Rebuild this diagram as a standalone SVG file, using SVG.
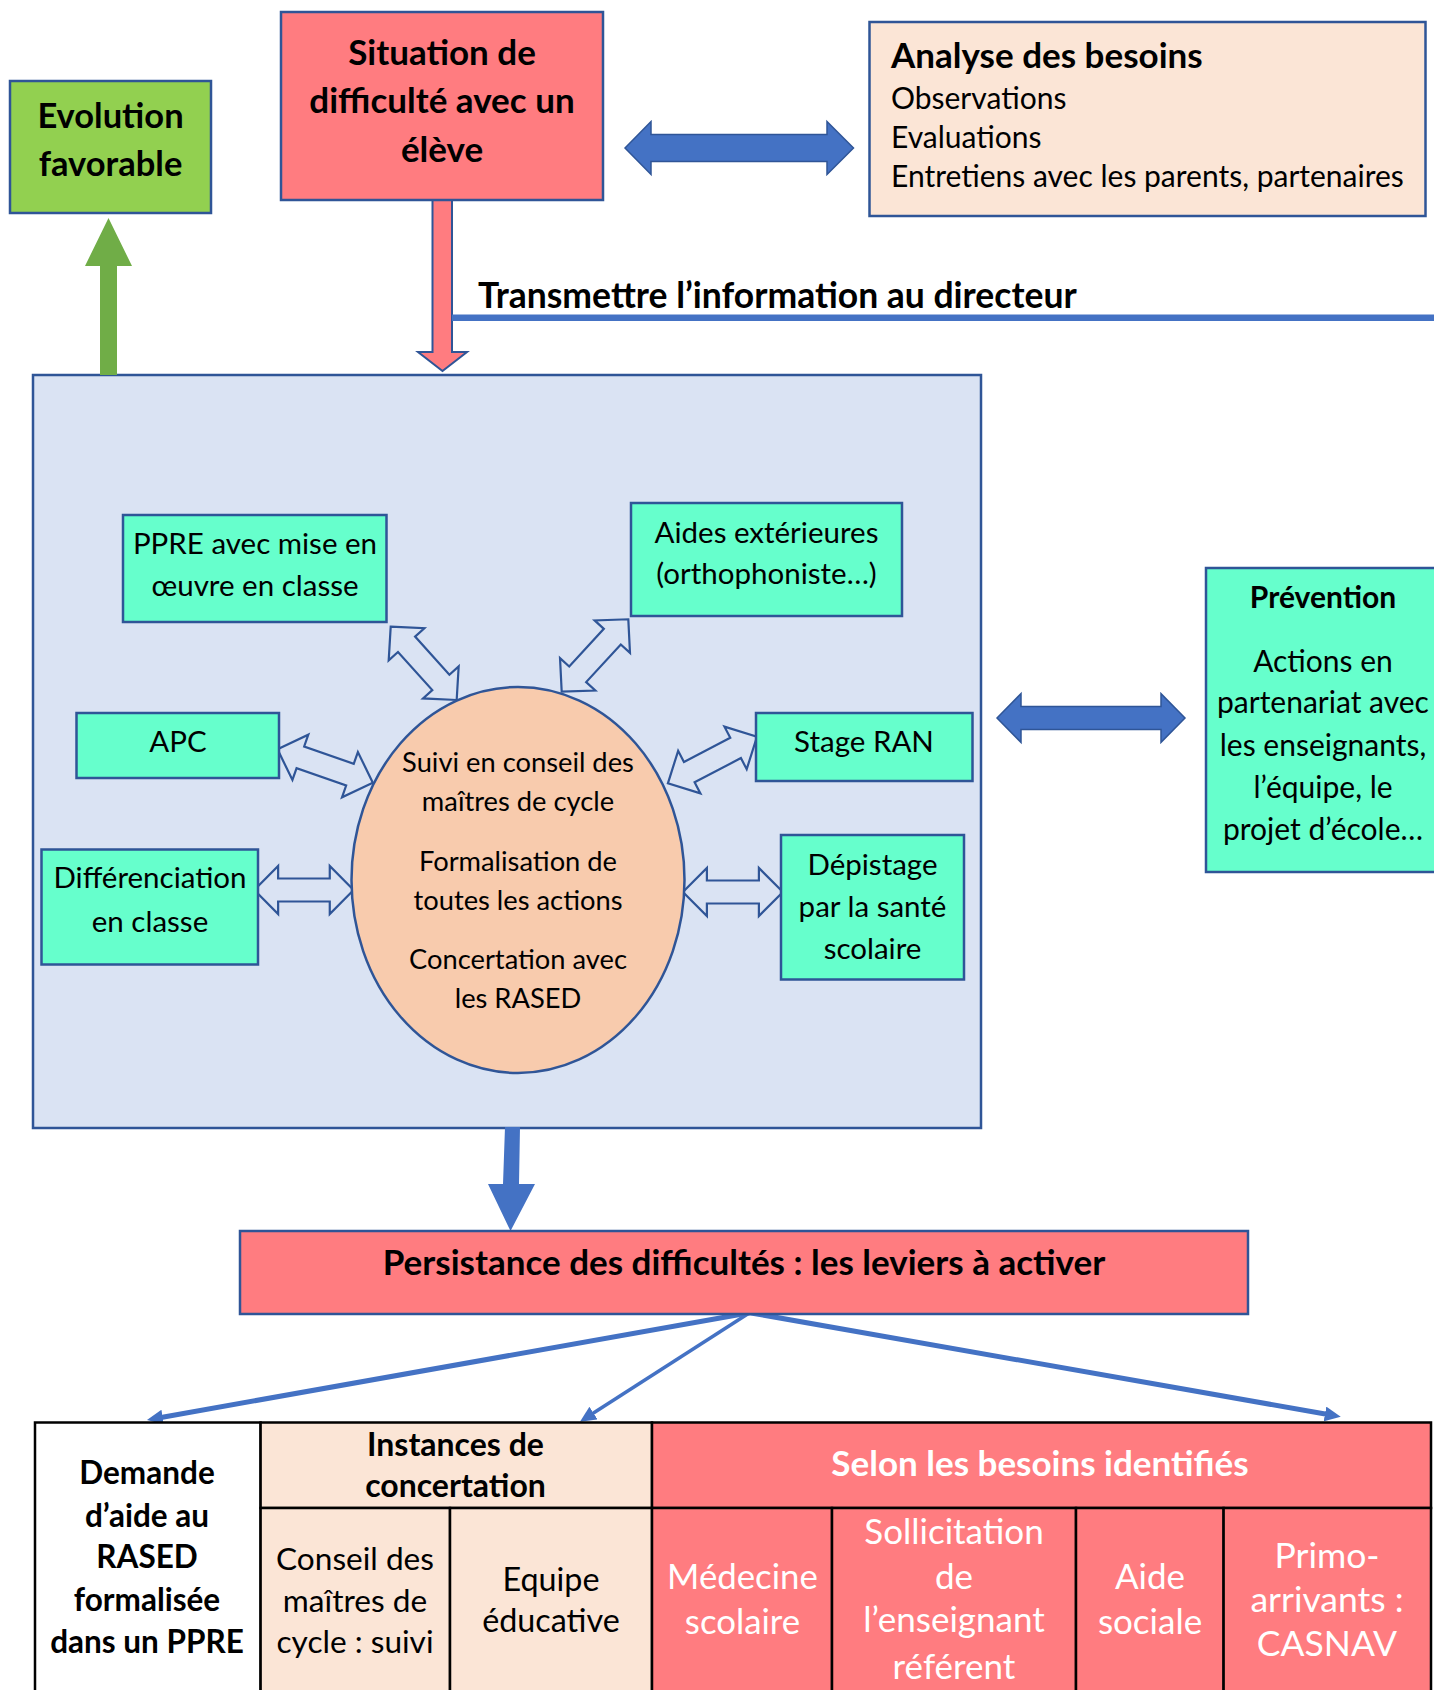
<svg xmlns="http://www.w3.org/2000/svg" width="1434" height="1690" viewBox="0 0 1434 1690">
<style>
.t{font-family:Lato,"Liberation Sans",sans-serif;fill:#000}
.b{font-weight:bold}
.w{fill:#fff}
.m{text-anchor:middle}
.box{stroke:#2F5597;stroke-width:2.5}
.red{fill:#FF7C80}
.green{fill:#92D050}
.peach{fill:#FBE5D6}
.aqua{fill:#66FFCC}
.bg{fill:#DAE3F3}
.cell{stroke:#000;stroke-width:2.5}
.hol{fill:#DAE3F3;stroke:#2F5597;stroke-width:2.2}
.solid{fill:#4472C4;stroke:#2F5597;stroke-width:1.5}
.lnk{stroke:#4472C4;fill:none}
.in{font-size:29.5px}
.el{font-size:27.3px}
</style>
<defs>
<polygon id="harrow" points="0,0 24,-24 24,-11.5 76,-11.5 76,-24 100,0 76,24 76,11.5 24,11.5 24,24" vector-effect="non-scaling-stroke"/>
<marker id="ah" markerUnits="userSpaceOnUse" markerWidth="16" markerHeight="15" refX="6" refY="7.5" orient="auto">
<path d="M0,0 L16,7.5 L0,15 z" fill="#4472C4"/>
</marker>
</defs>

<!-- background container -->
<g id="container">
<rect class="box bg" x="33" y="375" width="948" height="753"/>
</g>

<g id="connectors">
<!-- green up arrow -->
<polygon points="100,375 100,266 85,266 108.5,218 132,266 117,266 117,375" fill="#70AD47"/>
<!-- red down arrow -->
<polygon points="432.5,199 432.5,352 418,352 442.5,371 467,352 452,352 452,199" fill="#FF7C80" stroke="#2F5597" stroke-width="2"/>
<!-- transmettre line -->
<rect x="452" y="314.5" width="982" height="6.5" fill="#4472C4"/>
<!-- top double arrow -->
<polygon class="solid" points="625,148 651,121.5 651,134.5 827,134.5 827,121.5 853.5,148 827,174.5 827,161.5 651,161.5 651,174.5"/>
<!-- right double arrow -->
<polygon class="solid" points="997,718 1021,693.6 1021,706.5 1161,706.5 1161,693.6 1185,718 1161,742.4 1161,729.5 1021,729.5 1021,742.4"/>
<!-- hollow double arrows -->
<use href="#harrow" class="hol" transform="translate(390.7,626.7) rotate(48) scale(0.986,1)"/>
<use href="#harrow" class="hol" transform="translate(561.7,691.7) rotate(-47.4) scale(0.984,1)"/>
<use href="#harrow" class="hol" transform="translate(277.5,749.3) rotate(19.3) scale(1.01,1)"/>
<use href="#harrow" class="hol" transform="translate(667.9,783.3) rotate(-27.6) scale(1.005,1)"/>
<use href="#harrow" class="hol" transform="translate(254.3,890) scale(0.993,1)"/>
<use href="#harrow" class="hol" transform="translate(682.9,892)"/>
<!-- big down arrow -->
<polygon points="505,1127 520,1127 519,1184 535,1184 510.5,1231 488,1184 503,1184" fill="#4472C4"/>
<!-- lines to table -->
<line class="lnk" x1="749.6" y1="1312.7" x2="156.8" y2="1418.2" stroke-width="5" marker-end="url(#ah)"/>
<line class="lnk" x1="749.6" y1="1312.7" x2="588.4" y2="1416.3" stroke-width="3.5" marker-end="url(#ah)"/>
<line class="lnk" x1="749.6" y1="1312.7" x2="1330.9" y2="1415" stroke-width="5" marker-end="url(#ah)"/>
</g>

<g id="evolution">
<rect class="box green" x="10" y="81" width="201" height="132"/>
<text class="t b m" x="110.5" y="128" font-size="34.5">Evolution</text>
<text class="t b m" x="110.5" y="176" font-size="34.5">favorable</text>
</g>

<g id="situation">
<rect class="box red" x="281" y="12" width="322" height="188"/>
<text class="t b m" x="442" y="65" font-size="35">Situation de</text>
<text class="t b m" x="442" y="113" font-size="35">difficulté avec un</text>
<text class="t b m" x="442" y="162" font-size="35">élève</text>
</g>

<g id="analyse">
<rect class="box peach" x="869.5" y="22" width="556" height="194"/>
<text class="t b" x="891" y="68" font-size="35">Analyse des besoins</text>
<text class="t" x="891" y="109" font-size="30">Observations</text>
<text class="t" x="891" y="148" font-size="30">Evaluations</text>
<text class="t" x="891" y="187" font-size="30">Entretiens avec les parents, partenaires</text>
</g>

<g id="transmettre">
<text class="t b" x="478" y="308" font-size="35.5">Transmettre l’information au directeur</text>
</g>

<g id="ppre">
<rect class="box aqua" x="123" y="515" width="263.5" height="107"/>
<text class="t m in" x="255" y="554">PPRE avec mise en</text>
<text class="t m in" x="255" y="596">œuvre en classe</text>
</g>

<g id="aides">
<rect class="box aqua" x="631" y="503" width="271" height="113"/>
<text class="t m in" x="766.5" y="543">Aides extérieures</text>
<text class="t m in" x="766.5" y="584">(orthophoniste…)</text>
</g>

<g id="apc">
<rect class="box aqua" x="76.5" y="713" width="202.5" height="65"/>
<text class="t m in" x="178" y="752">APC</text>
</g>

<g id="stage">
<rect class="box aqua" x="756" y="713" width="216.5" height="68"/>
<text class="t m in" x="864" y="752">Stage RAN</text>
</g>

<g id="diff">
<rect class="box aqua" x="41.5" y="849.5" width="216.5" height="115"/>
<text class="t m in" x="150" y="888">Différenciation</text>
<text class="t m in" x="150" y="932">en classe</text>
</g>

<g id="depistage">
<rect class="box aqua" x="781" y="835" width="183" height="144.5"/>
<text class="t m in" x="872.5" y="875">Dépistage</text>
<text class="t m in" x="872.5" y="916.5">par la santé</text>
<text class="t m in" x="872.5" y="958.5">scolaire</text>
</g>

<g id="suivi">
<ellipse cx="518" cy="880" rx="166.5" ry="193" fill="#F8CBAD" stroke="#2F5597" stroke-width="2.5"/>
<text class="t m el" x="518" y="772">Suivi en conseil des</text>
<text class="t m el" x="518" y="811">maîtres de cycle</text>
<text class="t m el" x="518" y="871">Formalisation de</text>
<text class="t m el" x="518" y="910">toutes les actions</text>
<text class="t m el" x="518" y="969">Concertation avec</text>
<text class="t m el" x="518" y="1008">les RASED</text>
</g>

<g id="prevention">
<rect class="box aqua" x="1206" y="568" width="240" height="304"/>
<text class="t b m" x="1323" y="608" font-size="30">Prévention</text>
<text class="t m" x="1323" y="672" font-size="30">Actions en</text>
<text class="t m" x="1323" y="713" font-size="30">partenariat avec</text>
<text class="t m" x="1323" y="756" font-size="30">les enseignants,</text>
<text class="t m" x="1323" y="798" font-size="30">l’équipe, le</text>
<text class="t m" x="1323" y="840" font-size="30">projet d’école…</text>
</g>

<g id="persistance">
<rect class="box red" x="240" y="1231" width="1008" height="83"/>
<text class="t b m" x="744" y="1275" font-size="35">Persistance des difficultés : les leviers à activer</text>
</g>

<g id="table">
<rect class="cell" x="35" y="1422.5" width="225.6" height="280" fill="#fff"/>
<rect class="cell peach" x="260.6" y="1422.5" width="391.4" height="85.5"/>
<rect class="cell red" x="652" y="1422.5" width="779" height="85.5"/>
<rect class="cell peach" x="260.6" y="1508" width="189.4" height="200"/>
<rect class="cell peach" x="450" y="1508" width="202" height="200"/>
<rect class="cell red" x="652" y="1508" width="180" height="200"/>
<rect class="cell red" x="832" y="1508" width="244" height="200"/>
<rect class="cell red" x="1076" y="1508" width="147.6" height="200"/>
<rect class="cell red" x="1223.6" y="1508" width="207.4" height="200"/>
</g>

<g id="demande">
<text class="t b m" x="147" y="1484" font-size="31.5">Demande</text>
<text class="t b m" x="147" y="1527" font-size="31.5">d’aide au</text>
<text class="t b m" x="147" y="1568" font-size="31.5">RASED</text>
<text class="t b m" x="147" y="1611" font-size="31.5">formalisée</text>
<text class="t b m" x="147" y="1653" font-size="31.5">dans un PPRE</text>
</g>
<g id="instances">
<text class="t b m" x="455.5" y="1455.5" font-size="32">Instances de</text>
<text class="t b m" x="455.5" y="1497" font-size="32">concertation</text>
</g>
<g id="selon">
<text class="t b m w" x="1040" y="1476" font-size="35">Selon les besoins identifiés</text>
</g>
<g id="conseil">
<text class="t m" x="355" y="1570" font-size="31.6">Conseil des</text>
<text class="t m" x="355" y="1612" font-size="31.6">maîtres de</text>
<text class="t m" x="355" y="1653" font-size="31.6">cycle : suivi</text>
</g>
<g id="equipe">
<text class="t m" x="551" y="1591" font-size="32.3">Equipe</text>
<text class="t m" x="551" y="1632" font-size="32.3">éducative</text>
</g>
<g id="medecine">
<text class="t m w" x="742.5" y="1589" font-size="34.8">Médecine</text>
<text class="t m w" x="742.5" y="1634" font-size="34.8">scolaire</text>
</g>
<g id="sollicitation">
<text class="t m w" x="954" y="1544" font-size="35">Sollicitation</text>
<text class="t m w" x="954" y="1589" font-size="35">de</text>
<text class="t m w" x="954" y="1632" font-size="35">l’enseignant</text>
<text class="t m w" x="954" y="1679" font-size="35">référent</text>
</g>
<g id="aide">
<text class="t m w" x="1150" y="1589" font-size="35">Aide</text>
<text class="t m w" x="1150" y="1634" font-size="35">sociale</text>
</g>
<g id="primo">
<text class="t m w" x="1327" y="1568" font-size="35.5">Primo-</text>
<text class="t m w" x="1327" y="1612" font-size="35.5">arrivants :</text>
<text class="t m w" x="1327" y="1656" font-size="35.5">CASNAV</text>
</g>
</svg>
